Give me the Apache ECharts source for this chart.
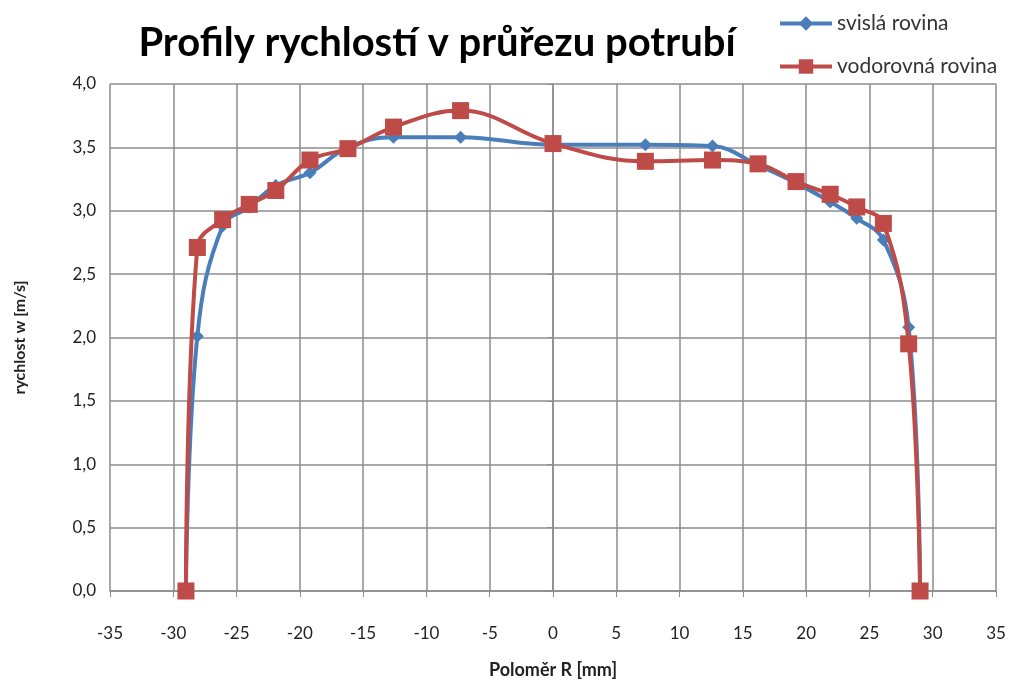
<!DOCTYPE html>
<html>
<head>
<meta charset="utf-8">
<script src="https://cdn.jsdelivr.net/npm/echarts@6/dist/echarts.min.js"></script>
<style>
  html, body { margin: 0; padding: 0; background: #fff; }
  #chart { width: 1010px; height: 682px; }
</style>
</head>
<body>
<div id="chart"></div>
<script>
// poloměr R [mm] a rychlosti w [m/s]
const radius = [-29, -28.1, -26.1, -24, -21.9, -19.2, -16.2, -12.6, -7.3, 0, 7.3, 12.6, 16.2, 19.2, 21.9, 24, 26.1, 28.1, 29]
const svisla = [0, 2.01, 2.88, 3.03, 3.2, 3.3, 3.5, 3.58, 3.58, 3.52, 3.52, 3.51, 3.36, 3.22, 3.07, 2.94, 2.77, 2.08, 0]
const vodorovna = [0, 2.71, 2.93, 3.05, 3.16, 3.4, 3.49, 3.66, 3.79, 3.53, 3.39, 3.4, 3.37, 3.23, 3.13, 3.03, 2.9, 1.95, 0]

const toPairs = (xs, ys) => xs.map((x, i) => [x, ys[i]])

const font = 'Lato, "Open Sans", sans-serif'
const gridColor = '#8c8c8c'

const chart = echarts.init(document.getElementById('chart'))

const option = {
  backgroundColor: '#fff',
  textStyle: { fontFamily: font },
  title: {
    text: 'Profily rychlostí v průřezu potrubí',
    left: 432,
    top: 18,
    textAlign: 'center',
    textStyle: { fontSize: 40, fontWeight: 'bold', color: '#000', fontFamily: font }
  },
  legend: {
    orient: 'vertical',
    left: 773,
    top: 8,
    itemWidth: 52,
    itemHeight: 18,
    itemGap: 22,
    lineStyle: { width: 4 },
    textStyle: { fontSize: 21, color: '#333', fontFamily: font },
    data: ['svislá rovina', 'vodorovná rovina']
  },
  grid: { left: 110, right: 14, top: 84, bottom: 91, outerBoundsMode: 'none' },
  xAxis: {
    type: 'value',
    min: -35,
    max: 35,
    interval: 5,
    name: 'Poloměr R [mm]',
    nameLocation: 'middle',
    nameGap: 70,
    nameTextStyle: { fontSize: 18, fontWeight: 'bold', color: '#222', fontFamily: font },
    axisLine: { onZero: false, lineStyle: { color: gridColor, width: 1.5 } },
    axisTick: { show: true, length: 6, lineStyle: { color: gridColor } },
    axisLabel: { fontSize: 17, color: '#222', margin: 34, fontFamily: font },
    splitLine: { show: true, lineStyle: { color: gridColor, width: 1.5 } }
  },
  yAxis: {
    type: 'value',
    min: 0,
    max: 4,
    interval: 0.5,
    name: 'rychlost w [m/s]',
    nameLocation: 'middle',
    nameGap: 82,
    nameTextStyle: { fontSize: 16, fontWeight: 'bold', color: '#222', fontFamily: font },
    axisLine: { show: true, lineStyle: { color: gridColor, width: 1.5 } },
    axisTick: { show: true, length: 6, lineStyle: { color: gridColor } },
    axisLabel: {
      fontSize: 17,
      color: '#222',
      margin: 14,
      fontFamily: font,
      formatter: v => v.toFixed(1).replace('.', ',')
    },
    splitLine: { show: true, lineStyle: { color: gridColor, width: 1.5 } }
  },
  series: [
    {
      name: 'svislá rovina',
      type: 'line',
      smooth: 0.4,
      data: toPairs(radius, svisla),
      symbol: 'diamond',
      symbolSize: 13,
      itemStyle: { color: '#4a7ebb' },
      lineStyle: { color: '#4a7ebb', width: 4 },
      z: 2
    },
    {
      name: 'vodorovná rovina',
      type: 'line',
      smooth: 0.4,
      data: toPairs(radius, vodorovna),
      symbol: 'rect',
      symbolSize: 17,
      itemStyle: { color: '#be4b48' },
      lineStyle: { color: '#be4b48', width: 4 },
      z: 3
    }
  ]
}

chart.setOption(option)
</script>
</body>
</html>
